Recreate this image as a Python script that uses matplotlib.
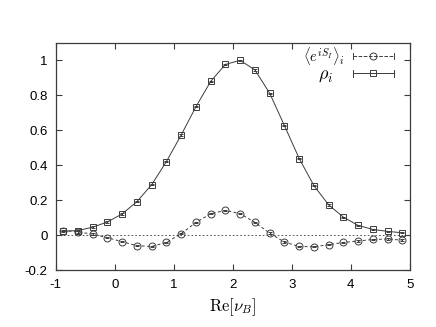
import numpy as np
import matplotlib
matplotlib.use("Agg")
import matplotlib.pyplot as plt
from matplotlib.lines import Line2D
from matplotlib.legend_handler import HandlerBase

plt.rcParams['font.family'] = ['Liberation Sans', 'DejaVu Sans']
plt.rcParams['mathtext.fontset'] = 'cm'
plt.rcParams['axes.unicode_minus'] = False

# data
nu_re = [-0.875, -0.625, -0.375, -0.125, 0.125, 0.375, 0.625, 0.875,
         1.125, 1.375, 1.625, 1.875, 2.125, 2.375, 2.625, 2.875,
         3.125, 3.375, 3.625, 3.875, 4.125, 4.375, 4.625, 4.875]
phase = [0.028, 0.020, 0.007, -0.013, -0.036, -0.059, -0.063, -0.040,
         0.010, 0.074, 0.124, 0.143, 0.124, 0.074, 0.013, -0.038,
         -0.063, -0.065, -0.053, -0.040, -0.032, -0.023, -0.021, -0.027]
rho = [0.024, 0.028, 0.047, 0.077, 0.123, 0.193, 0.290, 0.422,
       0.574, 0.735, 0.880, 0.977, 1.000, 0.945, 0.812, 0.627,
       0.439, 0.284, 0.174, 0.104, 0.057, 0.034, 0.023, 0.015]
err = 0.004

col = '#3c3c3c'


class GnuHandler(HandlerBase):
    # gnuplot style key: line with end caps and a point in the middle
    def create_artists(self, legend, orig_handle, xdescent, ydescent,
                       width, height, fontsize, trans):
        y = height / 2 - ydescent
        x0, x1 = -xdescent, width - xdescent
        ls = orig_handle.get_linestyle()
        line = Line2D([x0, x1], [y, y], color=col, lw=0.7, linestyle=ls)
        capl = Line2D([x0, x0], [y - 2.5, y + 2.5], color=col, lw=0.7)
        capr = Line2D([x1, x1], [y - 2.5, y + 2.5], color=col, lw=0.7)
        mk = Line2D([(x0 + x1) / 2], [y], marker=orig_handle.get_marker(),
                    ms=orig_handle.get_markersize(), mfc='none', mec=col,
                    mew=0.7, linestyle='none')
        out = [line, capl, capr, mk]
        for a in out:
            a.set_transform(trans)
        return out


fig = plt.figure(figsize=(4.36, 3.27), dpi=100)
ax = fig.add_axes([0.128, 0.173, 0.812, 0.696])

ax.axhline(0, color=col, lw=0.6, dashes=(2, 2.5))

ax.errorbar(nu_re, phase, yerr=err, color=col, lw=0.7, dashes=(3, 2.5),
            marker='o', ms=5, mfc='none', mec=col, mew=0.7,
            elinewidth=0.7, capsize=1.5)
ax.errorbar(nu_re, rho, yerr=err, color=col, lw=0.7,
            marker='s', ms=5, mfc='none', mec=col, mew=0.7,
            elinewidth=0.7, capsize=1.5)

h1 = Line2D([], [], linestyle='--', marker='o', ms=5)
h2 = Line2D([], [], linestyle='-', marker='s', ms=5)
leg = ax.legend([h1, h2],
                [r'$\langle e^{iS_I}\rangle_i$', r'$\rho_i$' + '\u00a0' * 3],
                handler_map={Line2D: GnuHandler()}, markerfirst=False,
                frameon=False, loc='upper right',
                bbox_to_anchor=(0.975, 1.02),
                handlelength=2.5, handletextpad=0.45, labelspacing=-0.05,
                fontsize=12, borderaxespad=0)
leg.get_texts()[0].set_fontsize(10.5)
leg.get_texts()[1].set_fontsize(13)

ax.set_xlim(-1, 5)
ax.set_ylim(-0.2, 1.1)
ax.set_xticks(np.arange(-1, 6, 1))
ax.set_yticks([-0.2, 0, 0.2, 0.4, 0.6, 0.8, 1])
ax.set_yticklabels(['-0.2', '0', '0.2', '0.4', '0.6', '0.8', '1'])
ax.tick_params(direction='in', top=True, right=True, length=4,
               width=0.8, labelsize=9.5, pad=6, color=col)
for s in ax.spines.values():
    s.set_color(col)
    s.set_linewidth(0.9)

ax.set_xlabel(r'$\mathrm{Re}[\nu_B]$', fontsize=12, labelpad=4)

fig.savefig('out.png', dpi=100)
